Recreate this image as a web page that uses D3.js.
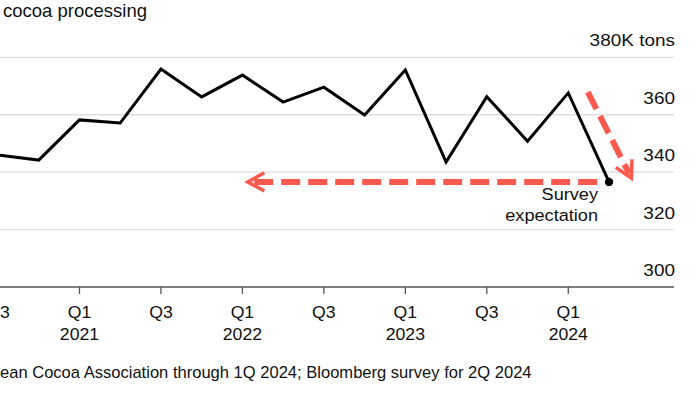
<!DOCTYPE html>
<html>
<head>
<meta charset="utf-8">
<script src="https://cdn.jsdelivr.net/npm/d3@7"></script>
<style>
  body { margin: 0; background: #fff; }
  svg { display: block; font-family: "Liberation Sans", Arial, sans-serif; }
</style>
</head>
<body>
<svg width="700" height="394"></svg>
<script>
// quarterly cocoa grindings, K tons (last one is the survey expectation)
var quarters = ["Q3 2020", "Q4 2020", "Q1 2021", "Q2 2021", "Q3 2021", "Q4 2021",
  "Q1 2022", "Q2 2022", "Q3 2022", "Q4 2022", "Q1 2023", "Q2 2023",
  "Q3 2023", "Q4 2023", "Q1 2024", "Q2 2024"];
var grindings = [346.0, 344.2, 358.2, 357.1, 375.9, 366.2, 373.8, 364.4,
  369.6, 359.9, 375.6, 343.5, 366.3, 350.8, 367.6, 336.6];

var yTicks = [300, 320, 340, 360, 380];
var xTickIdx = [0, 2, 4, 6, 8, 10, 12, 14];
var xTickTop = ["Q3", "Q1", "Q3", "Q1", "Q3", "Q1", "Q3", "Q1"];
var xTickYear = ["", "2021", "", "2022", "", "2023", "", "2024"];

// annotation arrows, in [quarter index, value]
var backArrow = [[14.71, 336.6], [6.13, 336.6]];
var dropArrow = [[14.48, 367.9], [15.55, 337.9]];

var svg = d3.select("svg");
var red = "#fa5a4d";

var x = d3.scaleLinear().domain([0, 15]).range([-2, 609]);
var y = d3.scaleLinear().domain([300, 380]).range([287, 57.3]);

// text slightly widened to match the reference lettering
function label(parent, tx, ty, size, sx, anchor) {
  return parent.append("text")
    .attr("transform", "translate(" + tx + "," + ty + ") scale(" + sx + ",1)")
    .attr("text-anchor", anchor)
    .attr("font-size", size)
    .attr("fill", "#111");
}

// gridlines + right labels
var grid = svg.append("g");
grid.selectAll("line")
  .data(yTicks.filter(function(d) { return d > 300; }))
  .enter().append("line")
  .attr("x1", 0).attr("x2", 674)
  .attr("y1", function(d) { return y(d); })
  .attr("y2", function(d) { return y(d); })
  .attr("stroke", "#dedede")
  .attr("stroke-width", 1.3);

yTicks.forEach(function(d) {
  label(grid, 675, y(d) - 11, 16.5, 1.15, "end")
    .text(d === 380 ? "380K tons" : d);
});

// x axis
svg.append("line")
  .attr("x1", 0).attr("x2", 674)
  .attr("y1", y(300)).attr("y2", y(300))
  .attr("stroke", "#555").attr("stroke-width", 1.3);

var xg = svg.append("g");
xTickIdx.forEach(function(d, i) {
  xg.append("line")
    .attr("x1", x(d)).attr("x2", x(d))
    .attr("y1", y(300)).attr("y2", y(300) + 7)
    .attr("stroke", "#555").attr("stroke-width", 1.3);
  label(xg, x(d), y(300) + 31, 16.5, 1.07, "middle").text(xTickTop[i]);
  if (xTickYear[i]) {
    label(xg, x(d), y(300) + 53, 16.5, 1.07, "middle").text(xTickYear[i]);
  }
});

// red dashed arrows
function arrow(pts) {
  var p0 = [x(pts[0][0]), y(pts[0][1])];
  var p1 = [x(pts[1][0]), y(pts[1][1])];
  var ang = Math.atan2(p1[1] - p0[1], p1[0] - p0[0]);
  var g = svg.append("g");
  g.append("line")
    .attr("x1", p0[0]).attr("y1", p0[1])
    .attr("x2", p1[0] - Math.cos(ang) * 5).attr("y2", p1[1] - Math.sin(ang) * 5)
    .attr("stroke", red)
    .attr("stroke-width", 6)
    .attr("stroke-dasharray", "19,8");
  var len = 19, spread = 0.5;
  var a1 = [p1[0] - len * Math.cos(ang - spread), p1[1] - len * Math.sin(ang - spread)];
  var a2 = [p1[0] - len * Math.cos(ang + spread), p1[1] - len * Math.sin(ang + spread)];
  g.append("path")
    .attr("d", d3.line()([a1, p1, a2]))
    .attr("fill", "none")
    .attr("stroke", red)
    .attr("stroke-width", 3.5);
}
arrow(backArrow);
arrow(dropArrow);

// main line
var line = d3.line()
  .x(function(d, i) { return x(i); })
  .y(function(d) { return y(d); });

svg.append("path")
  .datum(grindings)
  .attr("d", line)
  .attr("fill", "none")
  .attr("stroke", "#000")
  .attr("stroke-width", 3)
  .attr("stroke-linejoin", "miter");

var last = grindings.length - 1;
svg.append("circle")
  .attr("cx", x(last)).attr("cy", y(grindings[last]))
  .attr("r", 4.2)
  .attr("fill", "#000");

label(svg, x(last) - 11, y(grindings[last]) + 18, 16.5, 1.1, "end").text("Survey");
label(svg, x(last) - 11, y(grindings[last]) + 39, 16.5, 1.1, "end").text("expectation");

// title and source (cut at the left edge)
svg.append("text")
  .attr("x", 3).attr("y", 17)
  .attr("font-size", 18.5)
  .attr("fill", "#111")
  .text("cocoa processing");

label(svg, 0, 378, 16, 1.035, "start")
  .text("ean Cocoa Association through 1Q 2024; Bloomberg survey for 2Q 2024");
</script>
</body>
</html>
